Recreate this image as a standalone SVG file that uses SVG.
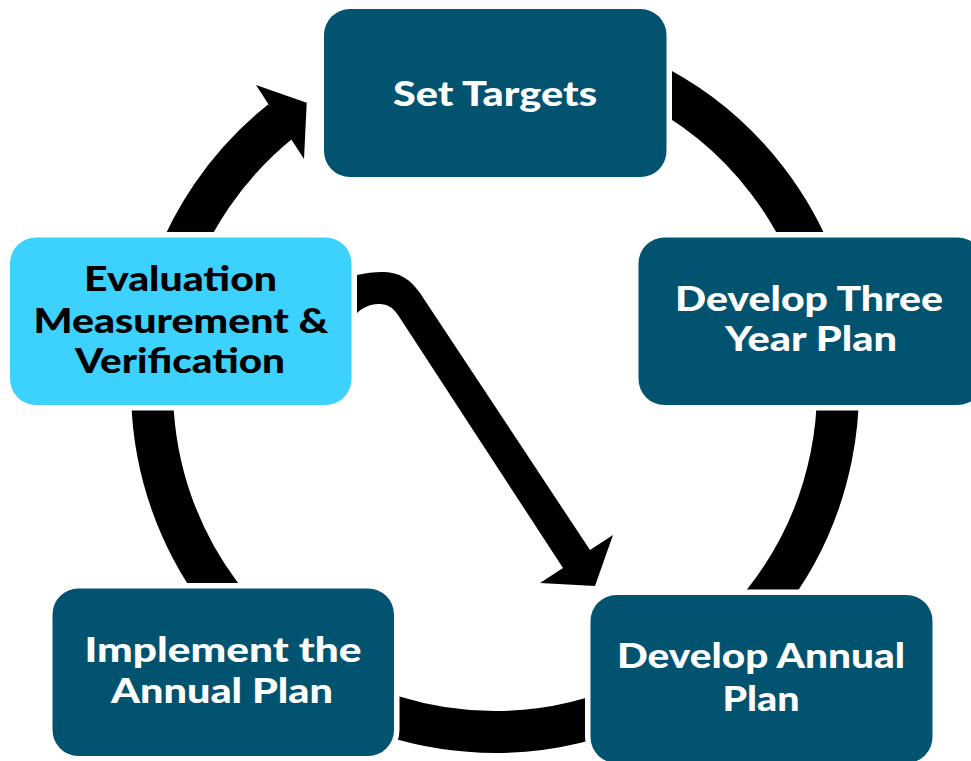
<svg xmlns="http://www.w3.org/2000/svg" width="971" height="761" viewBox="0 0 971 761">
  <style>
    .box { stroke: #ffffff; stroke-width: 11; paint-order: stroke; }
    .dark { fill: #02536f; }
    .light { fill: #3dd1fd; }
    .lbl { font-family: Lato, "Liberation Sans", sans-serif; font-weight: 900; font-size: 34px; text-anchor: middle; }
    .w { fill: #ffffff; }
    .k { fill: #000000; }
  </style>

  <!-- connectors: the cycle ring with its arrowhead, and the diagonal shortcut arrow -->
  <g id="connectors">
    <path d="M344.6 80.7 A343 343 0 1 1 495 732 A343 343 0 0 1 281.5 120.6" fill="none" stroke="#000" stroke-width="42"/>
    <polygon points="256,85 306.7,102.7 304,159" fill="#000"/>
    <path d="M345 275 L357 275 C366 273 374 272 382 272 C396 272 408 276 420 293 L590 550 L613 535 L595 586 L540 583 L563 568 L398 315 C392 306 386 304 378 304 C370 304 362 308 357 313 L345 313 Z" fill="#000"/>
  </g>

  <g id="set-targets">
    <rect class="box dark" x="324" y="9" width="342.5" height="168" rx="26"/>
    <text class="lbl w" x="495" y="106" textLength="204" lengthAdjust="spacingAndGlyphs">Set Targets</text>
  </g>

  <g id="three-year-plan">
    <rect class="box dark" x="638.5" y="237.5" width="345" height="167.5" rx="26"/>
    <text class="lbl w" x="809" y="311" textLength="268" lengthAdjust="spacingAndGlyphs">Develop Three</text>
    <text class="lbl w" x="811" y="351" textLength="172" lengthAdjust="spacingAndGlyphs">Year Plan</text>
  </g>

  <g id="annual-plan">
    <rect class="box dark" x="590.5" y="595" width="342" height="168" rx="26"/>
    <text class="lbl w" x="761" y="668" textLength="288" lengthAdjust="spacingAndGlyphs">Develop Annual</text>
    <text class="lbl w" x="761" y="711" textLength="77" lengthAdjust="spacingAndGlyphs">Plan</text>
  </g>

  <g id="implement">
    <rect class="box dark" x="52.5" y="588.5" width="341.5" height="167.5" rx="26"/>
    <text class="lbl w" x="223" y="662" textLength="277" lengthAdjust="spacingAndGlyphs">Implement the</text>
    <text class="lbl w" x="222" y="703" textLength="222" lengthAdjust="spacingAndGlyphs">Annual Plan</text>
  </g>

  <g id="evaluation">
    <rect class="box light" x="10" y="237.5" width="341.5" height="167.5" rx="26"/>
    <text class="lbl k" x="180.5" y="291" textLength="193" lengthAdjust="spacingAndGlyphs">Evaluation</text>
    <text class="lbl k" x="181" y="332.5" textLength="295" lengthAdjust="spacingAndGlyphs">Measurement &amp;</text>
    <text class="lbl k" x="180" y="373" textLength="210" lengthAdjust="spacingAndGlyphs">Verification</text>
  </g>
</svg>
